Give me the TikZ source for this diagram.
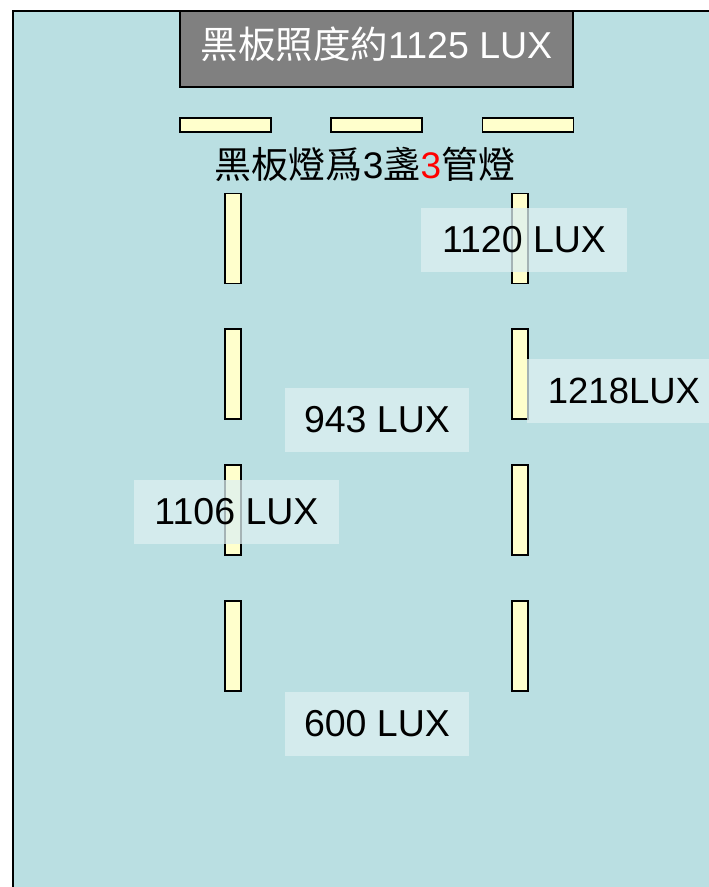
\documentclass[tikz,border=0pt]{standalone}
\usepackage{fontspec}
\setmainfont{Liberation Sans}
\newfontfamily\cjk{Noto Sans CJK TC}
\definecolor{roombg}{HTML}{BADFE2}
\definecolor{boardgray}{HTML}{808080}
\definecolor{lampfill}{HTML}{FFFFCC}
\definecolor{labelfill}{HTML}{DDF0F2}
\tikzset{
  lamph/.style={draw=black, line width=1.5pt, fill=lampfill, minimum width=91pt, minimum height=14pt, inner sep=0pt},
  lampv/.style={draw=black, line width=1.5pt, fill=lampfill, minimum width=16pt, minimum height=90pt, inner sep=0pt},
  luxlabel/.style={fill=labelfill, fill opacity=0.75, text opacity=1, inner sep=0pt, font=\fontsize{37.5}{40}\selectfont},
}
\begin{document}
\begin{tikzpicture}[x=1pt,y=-1pt]
\useasboundingbox (0,0) rectangle (709,887);
% room
\path[fill=roombg] (13,11) rectangle (712,890);
\draw[line width=2pt] (13,890) -- (13,11) -- (712,11);
% blackboard
\node[draw=black, line width=1.5pt, fill=boardgray, minimum width=393pt, minimum height=76pt, inner sep=0pt] (board) at (376.5,49) {};
\node[inner sep=0pt, text=white, font=\fontsize{37.5}{40}\selectfont] (boardtext) at ([yshift=5pt]board.center) {{\cjk 黑板照度約}1125 LUX};
% blackboard lamps
\node[lamph] (bl1) at (225.5,125) {};
\node[lamph] (bl2) at (376.5,125) {};
\node[lamph] (bl3) at (528,125) {};
\node[inner sep=0pt, font=\fontsize{37}{40}\selectfont] (caption) at (365,164) {{\cjk 黑板燈爲}3{\cjk 盞}\textcolor{red}{3}{\cjk 管燈}};
% ceiling lamps
\node[lampv] (l1) at (233,238.5) {};
\node[lampv] (l2) at (233,374) {};
\node[lampv] (l3) at (233,510) {};
\node[lampv] (l4) at (233,646) {};
\node[lampv] (r1) at (520,238.5) {};
\node[lampv] (r2) at (520,374) {};
\node[lampv] (r3) at (520,510) {};
\node[lampv] (r4) at (520,646) {};
% lux labels
\node[luxlabel, minimum width=206pt, minimum height=64pt] (lux1120) at (524,240) {1120 LUX};
\node[luxlabel, minimum width=184pt, minimum height=64pt] (lux1218) at (619,391) {\hspace*{10pt}\fontsize{36.5}{40}\selectfont 1218LUX};
\node[luxlabel, minimum width=184pt, minimum height=64pt] (lux943) at (377,420) {943 LUX};
\node[luxlabel, minimum width=205pt, minimum height=64pt] (lux1106) at (236.5,512) {1106 LUX};
\node[luxlabel, minimum width=184pt, minimum height=64pt] (lux600) at (377,724) {600 LUX};
\end{tikzpicture}
\end{document}
